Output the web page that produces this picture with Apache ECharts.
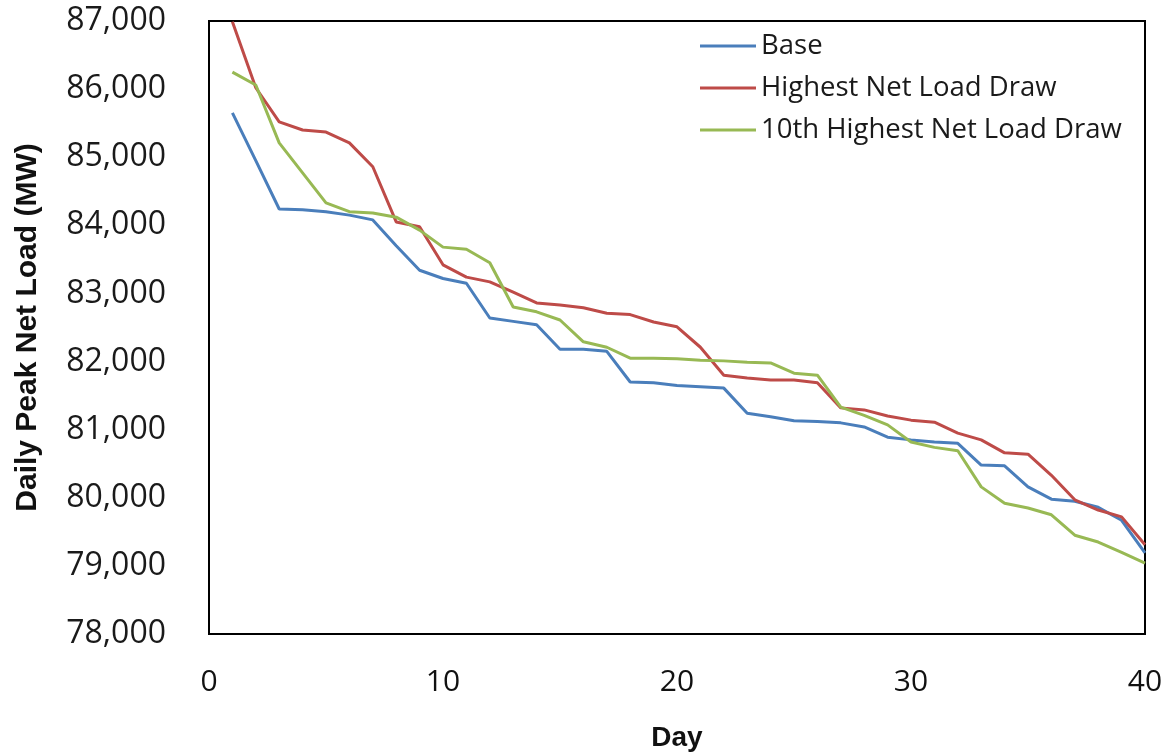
<!DOCTYPE html>
<html>
<head>
<meta charset="utf-8">
<script src="https://cdn.jsdelivr.net/npm/echarts@6/dist/echarts.min.js"></script>
<style>
  html, body { margin: 0; padding: 0; background: #fff; }
  #chart { width: 1169px; height: 755px; }
</style>
</head>
<body>
<div id="chart"></div>
<script>
var days = [];
for (var d = 1; d <= 40; d++) days.push(d);

var seriesNames = ['Base', 'Highest Net Load Draw', '10th Highest Net Load Draw'];

var base = [85650, 84950, 84240, 84230, 84200, 84150, 84080, 83700, 83340, 83220,
            83150, 82640, 82590, 82540, 82180, 82180, 82150, 81700, 81690, 81650,
            81630, 81610, 81240, 81190, 81130, 81120, 81100, 81040, 80890, 80850,
            80820, 80800, 80480, 80470, 80160, 79980, 79950, 79860, 79670, 79190];

var highest = [86990, 86020, 85520, 85400, 85370, 85210, 84860, 84050, 83980, 83420,
               83240, 83170, 83020, 82860, 82830, 82790, 82710, 82690, 82580, 82510,
               82210, 81800, 81760, 81730, 81730, 81690, 81320, 81290, 81200, 81140,
               81110, 80950, 80850, 80660, 80640, 80330, 79970, 79820, 79720, 79310];

var tenth = [86250, 86060, 85210, 84770, 84330, 84200, 84180, 84120, 83930, 83680,
             83650, 83450, 82800, 82730, 82610, 82290, 82210, 82050, 82050, 82040,
             82020, 82010, 81990, 81980, 81830, 81800, 81330, 81210, 81070, 80820,
             80740, 80690, 80160, 79920, 79850, 79750, 79450, 79350, 79200, 79040];

var colors = ['#4A7EBB', '#BE4B48', '#98B954'];

function pairs(vals) {
  return vals.map(function (v, i) { return [days[i], v]; });
}

var chart = echarts.init(document.getElementById('chart'));

var option = {
  animation: false,
  backgroundColor: '#fff',
  grid: {
    left: 209,
    right: 24,
    top: 21,
    bottom: 121,
    outerBoundsMode: 'none',
    show: true,
    borderColor: '#000',
    borderWidth: 2,
    backgroundColor: 'transparent'
  },
  legend: {
    orient: 'vertical',
    left: 695,
    top: 22,
    itemWidth: 56,
    itemHeight: 3,
    itemGap: 4,
    icon: 'rect',
    textStyle: { fontFamily: 'Open Sans', fontSize: 27.5, lineHeight: 38, color: '#1a1a1a', padding: 0 },
    data: seriesNames
  },
  xAxis: {
    type: 'value',
    min: 0,
    max: 40,
    interval: 10,
    name: 'Day',
    nameLocation: 'middle',
    nameGap: 90,
    nameTextStyle: { fontFamily: 'Liberation Sans', fontWeight: 'bold', fontSize: 28, color: '#111' },
    axisLine: { show: false },
    axisTick: { show: false },
    splitLine: { show: false },
    axisLabel: { margin: 33, fontFamily: 'Open Sans', fontSize: 30, color: '#111' }
  },
  yAxis: {
    type: 'value',
    min: 78000,
    max: 87000,
    interval: 1000,
    name: 'Daily Peak Net Load (MW)',
    nameLocation: 'middle',
    nameGap: 166,
    nameRotate: 90,
    nameTextStyle: { fontFamily: 'Liberation Sans', fontWeight: 'bold', fontSize: 30, color: '#111' },
    axisLine: { show: false },
    axisTick: { show: false },
    splitLine: { show: false },
    axisLabel: {
      margin: 43,
      fontFamily: 'Open Sans',
      fontSize: 32,
      color: '#1a1a1a',
      formatter: function (v) { return v.toLocaleString('en-US'); }
    }
  },
  series: [
    { name: seriesNames[0], type: 'line', data: pairs(base), showSymbol: false, symbol: 'none',
      lineStyle: { width: 3, color: colors[0] }, itemStyle: { color: colors[0] }, z: 3 },
    { name: seriesNames[1], type: 'line', data: pairs(highest), showSymbol: false, symbol: 'none',
      lineStyle: { width: 3, color: colors[1] }, itemStyle: { color: colors[1] }, z: 4 },
    { name: seriesNames[2], type: 'line', data: pairs(tenth), showSymbol: false, symbol: 'none',
      lineStyle: { width: 3, color: colors[2] }, itemStyle: { color: colors[2] }, z: 5 }
  ]
};

chart.setOption(option);
</script>
</body>
</html>
